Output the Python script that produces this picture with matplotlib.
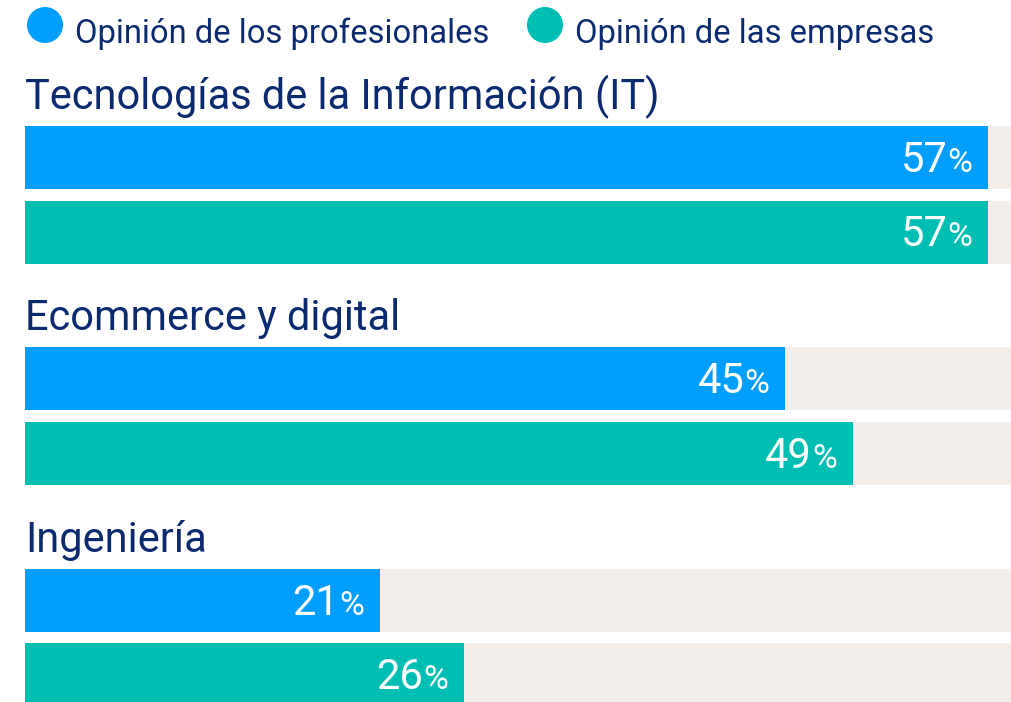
import matplotlib.pyplot as plt
from matplotlib.patches import Circle

plt.rcParams['font.family'] = ['Roboto', 'DejaVu Sans']

# Data
categories = ['Tecnologías de la Información (IT)', 'Ecommerce y digital', 'Ingeniería']
series_names = ['Opinión de los profesionales', 'Opinión de las empresas']
profesionales = [57, 45, 21]
empresas = [57, 49, 26]

colors = ['#009FFF', '#00BFB2']
track_color = '#F3EEEA'
navy = '#0B2A6F'

W, H = 1012, 702
fig = plt.figure(figsize=(W / 100, H / 100), dpi=100)

# axes covering the bar area; x in percent, y in pixel rows from the top
left_px = 25
ax = fig.add_axes([left_px / W, 0, 1 - left_px / W, 1])
px_per_pct = 963 / 57
xmax = (W - left_px) / px_per_pct
ax.set_xlim(0, xmax)
ax.set_ylim(H, 0)
ax.axis('off')

group_step = 221.3
first_top = 126
bar_h = 63
pair_step = 74.5

for i, cat in enumerate(categories):
    top = first_top + i * group_step
    ax.text(0, top - 17, cat, fontsize=29.9, color=navy, va='baseline', ha='left')
    for j, vals in enumerate([profesionales, empresas]):
        yc = top + bar_h / 2 + j * pair_step
        ax.barh(yc, xmax, height=bar_h, color=track_color, left=0, lw=0)
        ax.barh(yc, vals[i], height=bar_h, color=colors[j], left=0, lw=0)
        xr = vals[i] - 16 / px_per_pct
        pct = ax.text(xr, yc + 14.5, '%', fontsize=24.5, color='white',
                      ha='right', va='baseline')
        ax.annotate(str(vals[i]), xy=(0, yc + 14.5), xycoords=(pct, 'data'),
                    fontsize=30, color='white', ha='right', va='baseline')

# legend row
fax = fig.add_axes([0, 0, 1, 1])
fax.set_xlim(0, W)
fax.set_ylim(H, 0)
fax.axis('off')
leg_x = [45, 545]
for k, name in enumerate(series_names):
    fax.add_patch(Circle((leg_x[k], 25), 18, color=colors[k], lw=0))
    fax.text(leg_x[k] + 30, 43, name, fontsize=23.6, color=navy,
             ha='left', va='baseline')

fig.savefig('out.png', dpi=100)
